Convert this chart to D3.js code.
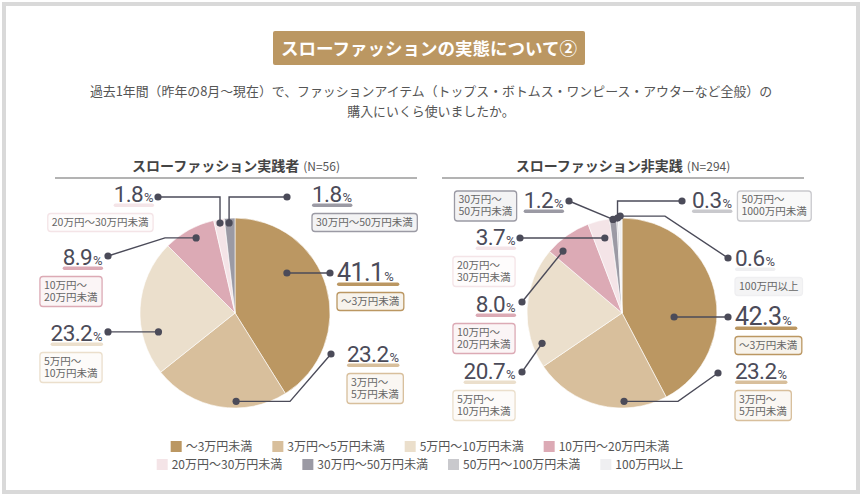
<!DOCTYPE html>
<html><head><meta charset="utf-8">
<script src="https://cdn.jsdelivr.net/npm/d3@7"></script>
<style>body{margin:0;background:#fff}svg{display:block}</style>
</head><body><svg id="c" width="862" height="496"></svg>
<script>
// ---------- DATA ----------
const categories = ["〜3万円未満","3万円〜5万円未満","5万円〜10万円未満","10万円〜20万円未満","20万円〜30万円未満","30万円〜50万円未満","50万円〜100万円未満","100万円以上"];
const practitionerValues = [41.1, 23.2, 23.2, 8.9, 1.8, 1.8, 0, 0];
const nonPractitionerValues = [42.3, 23.2, 20.7, 8.0, 3.7, 1.2, 0.3, 0.6];
const practitionerBoxLabels = ["〜3万円未満","3万円〜|5万円未満","5万円〜|10万円未満","10万円〜|20万円未満","20万円〜30万円未満","30万円〜50万円未満","",""];
const nonPractitionerBoxLabels = ["〜3万円未満","3万円〜|5万円未満","5万円〜|10万円未満","10万円〜|20万円未満","20万円〜|30万円未満","30万円〜|50万円未満","50万円〜|1000万円未満","100万円以上"];
const chartTitles = ["スローファッション実践者","スローファッション非実践"];
const chartNs = ["(N=56)","(N=294)"];
const mainTitle = "スローファッションの実態について②";
const questionLines = ["過去1年間（昨年の8月〜現在）で、ファッションアイテム（トップス・ボトムス・ワンピース・アウターなど全般）の","購入にいくら使いましたか。"];

// ---------- STYLE / LAYOUT ----------
const colors = ["#bb9762","#d8bf9c","#ebdfcc","#dcaab5","#f4e4e7","#9b9aa4","#c9c9cd","#efeff1"];
const jp = "'Noto Sans CJK JP','Noto Sans',sans-serif";
const numFont = "Roboto,'Liberation Sans',sans-serif";
const ink = "#4b4b59";

const layouts = [
  { cx:235, cy:313, r:95, labels:[
    {t:.354, rf:.69, path:[[330,null]], tx:337, ty:281, anchor:"start", box:"below", big:true},
    {t:.375, rf:.93, path:[[290,null],[331,354]], tx:347, ty:362, anchor:"start", box:"below"},
    {t:.295, rf:.83, path:[[108,null]], tx:102, ty:341, anchor:"end", box:"below"},
    {t:.55, rf:.89, path:[[165,null],[108,256]], tx:102, ty:265, anchor:"end", box:"below"},
    {t:.54, rf:.96, path:[[null,197],[158,197]], tx:153, ty:202, anchor:"end", box:"below"},
    {t:.42, rf:.95, path:[[null,197],[287,197]], tx:312, ty:202, anchor:"start", box:"below"},
    null, null ]},
  { cx:622, cy:313, r:95, labels:[
    {t:.62, rf:.55, path:[[728,null]], tx:735, ty:325, anchor:"start", box:"below", big:true},
    {t:.316, rf:.93, path:[[678,null],[718,373]], tx:735, ty:379, anchor:"start", box:"below"},
    {t:.18, rf:.9, path:[[522,372]], tx:515, ty:379, anchor:"end", box:"below"},
    {t:.21, rf:.9, path:[[522,302]], tx:515, ty:312, anchor:"end", box:"below"},
    {t:.6, rf:.81, path:[[520,null]], tx:515, ty:245, anchor:"end", box:"below"},
    {t:.48, rf:.99, path:[[569,201]], tx:563, ty:208, anchor:"end", box:"left"},
    {t:.5, rf:1.0, path:[[null,201],[682,201]], tx:692, ty:208, anchor:"start", box:"right"},
    {t:.5, rf:1.02, path:[[665,null],[728,258]], tx:735, ty:266, anchor:"start", box:"below"} ]}
];
const chartData = [
  {values: practitionerValues, boxes: practitionerBoxLabels},
  {values: nonPractitionerValues, boxes: nonPractitionerBoxLabels}
];

const svg = d3.select("#c");
const fmt = d3.format(".1f");

// border
svg.append("rect").attr("x",4).attr("y",4).attr("width",854).attr("height",488)
  .attr("fill","#fff").attr("stroke","#d9d9d9").attr("stroke-width",4);

// title
svg.append("rect").attr("x",273).attr("y",31).attr("width",312).attr("height",34).attr("rx",2).attr("fill","#bb9762");
svg.append("text").attr("x",429).attr("y",54.5).attr("text-anchor","middle")
  .attr("font-family",jp).attr("font-weight",700).attr("font-size",17.5).attr("fill","#fff").text(mainTitle);

// question
questionLines.forEach((l,i)=>{
  svg.append("text").attr("x",431).attr("y",96+i*20).attr("text-anchor","middle")
    .attr("font-family",jp).attr("font-size",12.9).attr("fill","#555").text(l);
});

const pie = d3.pie().sort(null).value(d=>d).startAngle(0).endAngle(2*Math.PI);

layouts.forEach((L,ci)=>{
  const D = chartData[ci];
  const g = svg.append("g");
  // chart heading
  const ht = g.append("text").attr("x",L.cx+1).attr("y",171).attr("text-anchor","middle").attr("font-family",jp).attr("fill","#444");
  ht.append("tspan").attr("font-size",14).attr("font-weight",700).text(chartTitles[ci]);
  ht.append("tspan").attr("font-size",12).attr("dx",4).attr("fill","#555").text(chartNs[ci]);
  g.append("line").attr("x1",L.cx-180).attr("x2",L.cx+182).attr("y1",178).attr("y2",178).attr("stroke","#9a9a9a").attr("stroke-width",1.5);

  const arcs = pie(D.values);
  const arc = d3.arc().innerRadius(0).outerRadius(L.r);
  g.append("g").attr("transform",`translate(${L.cx},${L.cy})`).selectAll("path").data(arcs.filter(a=>a.value>0)).join("path")
    .attr("d",arc).attr("fill",(d)=>colors[d.index]).attr("stroke","#fff").attr("stroke-width",0.6);

  arcs.forEach((a,i)=>{
    const lab = L.labels[i];
    if(!lab || a.value<=0) return;
    const ang = a.startAngle + lab.t*(a.endAngle-a.startAngle);
    const ix = L.cx + L.r*lab.rf*Math.sin(ang), iy = L.cy - L.r*lab.rf*Math.cos(ang);
    const pts = [[ix,iy]];
    lab.path.forEach(p=>{const prev=pts[pts.length-1]; pts.push([p[0]==null?prev[0]:p[0], p[1]==null?prev[1]:p[1]]);});
    g.append("path").attr("d",d3.line()(pts)).attr("fill","none").attr("stroke",ink).attr("stroke-width",1.4);
    [pts[0],pts[pts.length-1]].forEach(p=>g.append("circle").attr("cx",p[0]).attr("cy",p[1]).attr("r",3.6).attr("fill",ink));

    // number
    const fs = lab.big?25:22.5;
    const txt = g.append("text").attr("x",lab.tx).attr("y",lab.ty).attr("text-anchor",lab.anchor)
      .attr("font-family",numFont).attr("font-weight",400).attr("fill",ink).attr("letter-spacing",-0.6);
    txt.append("tspan").attr("font-size",fs).text(fmt(a.value));
    txt.append("tspan").attr("font-size",13).attr("dx",1).text("%");
    const bb = txt.node().getBBox();
    g.insert("rect","text").attr("x",bb.x).attr("y",lab.ty+1.5).attr("width",bb.width+(lab.big?6:1)).attr("height",3.6).attr("rx",1.8).attr("fill",colors[i]);

    // box
    const lines = D.boxes[i].split("|");
    const lh = 12, pad = 4;
    const bt = g.append("text").attr("font-family",jp).attr("font-size",10.5).attr("fill","#666");
    lines.forEach((l,k)=>bt.append("tspan").attr("x",0).attr("dy",k?lh:0).text(l));
    const tb = bt.node().getBBox();
    const bw = tb.width + pad*2, bh = lines.length*lh + 6;
    let bx, by;
    if(lab.box==="below"){
      by = lab.ty + 11.5;
      bx = lab.anchor==="start" ? bb.x : (bb.x+bb.width) - bw;
    } else if(lab.box==="left"){
      by = lab.ty - 17; bx = bb.x - 7 - bw;
    } else {
      by = lab.ty - 17; bx = bb.x + bb.width + 6;
    }
    g.insert("rect","text").attr("x",bx).attr("y",by).attr("width",bw).attr("height",bh).attr("rx",3)
      .attr("fill", d3.interpolateRgb("#ffffff",colors[i])(i===7?0.7:0.12)).attr("stroke",colors[i]).attr("stroke-width",1.3);
    bt.attr("transform",`translate(${bx+pad},${by+12})`);
    bt.raise();
  });
});

// legend
const rows = [[0,1,2,3],[4,5,6,7]];
const lg = svg.append("g");
rows.forEach((row,ri)=>{
  const y = 441 + ri*18;
  const items = row.map(i=>{
    const t = lg.append("text").attr("font-family",jp).attr("font-size",12).attr("fill","#555").attr("y",y+10).text(categories[i]);
    return {i, t, w: t.node().getComputedTextLength()};
  });
  const gap = 20, sq = 11, sp = 4;
  const total = d3.sum(items, d=>sq+sp+d.w) + gap*(items.length-1);
  let x = 420 - total/2;
  items.forEach(d=>{
    lg.append("rect").attr("x",x).attr("y",y).attr("width",sq).attr("height",sq).attr("fill",colors[d.i]);
    d.t.attr("x",x+sq+sp);
    x += sq+sp+d.w+gap;
  });
});
</script></body></html>
